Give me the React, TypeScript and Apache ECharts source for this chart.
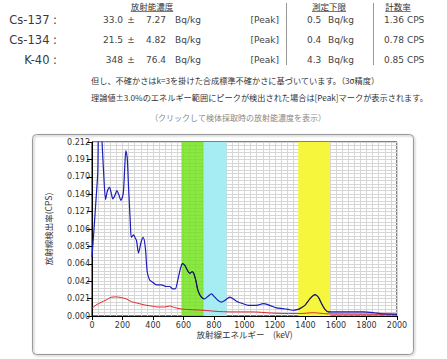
import React, { useEffect, useRef } from 'react';
import * as echarts from 'echarts';

const columnHeaders = ['放射能濃度', '測定下限', '計数率'];
const nuclides = ['Cs-137 :', 'Cs-134 :', 'K-40 :'];
const concentrations = ['33.0', '21.5', '348'];
const uncertainties = ['7.27', '4.82', '76.4'];
const concUnit = 'Bq/kg';
const peakMarks = ['[Peak]', '[Peak]', '[Peak]'];
const detectionLimits = ['0.5', '0.4', '4.3'];
const countRates = ['1.36 CPS', '0.78 CPS', '0.85 CPS'];
const notes = [
  '但し、不確かさはk=3を掛けた合成標準不確かさに基づいています。（3σ精度）',
  '理論値±3.0%のエネルギー範囲にピークが検出された場合は[Peak]マークが表示されます。',
];
const clickNote = '（クリックして検体採取時の放射能濃度を表示）';

const xAxisName = '放射線エネルギー　(keV)';
const yAxisName = '放射線検出率(CPS)';
const xTickLabels = ['0', '200', '400', '600', '800', '1000', '1200', '1400', '1600', '1800', '2000'];
const yTickLabels = ['0.000', '0.021', '0.042', '0.064', '0.085', '0.106', '0.127', '0.149', '0.170', '0.191', '0.212'];
const xMax = 2000;
const yMax = 0.2124;

// [keV, CPS]
const totalSpectrum: [number, number][] = [
  [0, 0.072], [12, 0.103], [27, 0.144], [38, 0.176], [45, 0.26], [55, 0.26], [64, 0.22],
  [76, 0.176], [89, 0.142], [100, 0.152], [115, 0.157], [126, 0.15], [137, 0.143], [152, 0.148],
  [163, 0.153], [176, 0.148], [190, 0.141], [205, 0.15], [213, 0.175], [222, 0.202], [231, 0.193],
  [240, 0.156], [251, 0.115], [258, 0.096], [273, 0.099], [284, 0.095], [292, 0.092], [305, 0.077],
  [323, 0.091], [336, 0.096], [350, 0.083], [362, 0.054], [378, 0.044], [400, 0.041], [421, 0.038],
  [455, 0.038], [488, 0.036], [509, 0.036], [531, 0.033], [546, 0.033], [564, 0.045], [580, 0.058],
  [593, 0.064], [608, 0.062], [625, 0.056], [641, 0.052], [656, 0.054], [665, 0.053], [680, 0.044],
  [695, 0.031], [717, 0.023], [739, 0.021], [761, 0.024], [783, 0.027], [805, 0.023], [827, 0.019],
  [849, 0.017], [871, 0.019], [903, 0.023], [925, 0.021], [958, 0.017], [991, 0.015], [1024, 0.013],
  [1079, 0.013], [1122, 0.015], [1166, 0.013], [1210, 0.01], [1250, 0.009], [1287, 0.008],
  [1319, 0.007], [1352, 0.008], [1363, 0.009], [1396, 0.013], [1429, 0.021], [1462, 0.026],
  [1484, 0.023], [1506, 0.015], [1528, 0.008], [1550, 0.005], [1561, 0.005], [1670, 0.005],
  [1780, 0.005], [1850, 0.004], [1889, 0.003], [2000, 0.002],
];

const backgroundSpectrum: [number, number][] = [
  [0, 0.0094], [27, 0.0135], [60, 0.0167], [93, 0.0196], [126, 0.0229], [159, 0.0233],
  [192, 0.0225], [225, 0.0208], [258, 0.0176], [301, 0.0155], [345, 0.0135], [389, 0.0122],
  [432, 0.011], [476, 0.011], [509, 0.0122], [542, 0.0103], [586, 0.0086], [641, 0.0078],
  [728, 0.007], [838, 0.0054], [947, 0.005], [1057, 0.005], [1166, 0.0037], [1287, 0.003],
  [1363, 0.003], [1451, 0.004], [1517, 0.003], [1561, 0.0025], [1800, 0.0022], [2000, 0.002],
];

const cs134Cs137Fit: [number, number][] = [
  [586, 0.061], [593, 0.064], [608, 0.062], [625, 0.056], [641, 0.052], [656, 0.054],
  [665, 0.053], [680, 0.044], [695, 0.031], [717, 0.023], [733, 0.021],
];

const k40Fit: [number, number][] = [
  [1352, 0.008], [1363, 0.009], [1396, 0.013], [1429, 0.021], [1462, 0.026], [1484, 0.023],
  [1506, 0.015], [1528, 0.008], [1550, 0.005], [1561, 0.005],
];

const tailArea: [number, number][] = [
  [1561, 0.0049], [1660, 0.0052], [1760, 0.0054], [1850, 0.0048], [1900, 0.0042], [2000, 0.004],
];

const bandRanges: [number, number][] = [[586, 733], [733, 882], [1352, 1561]];
const bandColors = ['rgba(110,226,20,0.8)', '#a6ecf3', '#f6f63c'];

const LATIN = '"DejaVu Sans", "Noto Sans CJK JP", sans-serif';
const CJK = '"Noto Sans CJK JP", "DejaVu Sans", sans-serif';

export default function App() {
  const ref = useRef<HTMLDivElement>(null);

  useEffect(() => {
    if (!ref.current) return;
    const chart = echarts.init(ref.current, null, { renderer: 'svg' });

    const rowY = [20, 40, 60];
    const graphics: any[] = [];

    graphics.push({
      type: 'rect',
      z: -10,
      shape: { x: 32.5, y: 134.5, width: 381, height: 220, r: 4 },
      style: {
        fill: 'none', stroke: '#9a9a9a', lineWidth: 1,
        shadowBlur: 2, shadowColor: 'rgba(0,0,0,0.35)', shadowOffsetX: 1, shadowOffsetY: 1,
      },
    });

    const headerX = [152, 329, 398];
    columnHeaders.forEach((t, i) => {
      graphics.push({
        type: 'text', x: headerX[i], y: 6,
        style: { text: t, fontSize: 8.5, fontFamily: CJK, fill: '#333', align: 'center', verticalAlign: 'middle' },
      });
      const w = t.length * 8.5;
      graphics.push({
        type: 'line',
        shape: { x1: headerX[i] - w / 2, y1: 11.5, x2: headerX[i] + w / 2, y2: 11.5 },
        style: { stroke: '#555', lineWidth: 0.8 },
      });
    });

    [286.5, 373.5].forEach((x) => {
      graphics.push({
        type: 'line', shape: { x1: x, y1: 3, x2: x, y2: 65 },
        style: { stroke: '#999', lineWidth: 1 },
      });
    });

    const dataStyle = (text: string, align: string) => ({
      text, fontSize: 9, fontFamily: LATIN, fill: '#444', align, verticalAlign: 'middle',
    });

    nuclides.forEach((n, i) => {
      const y = rowY[i];
      graphics.push({ type: 'text', x: 57, y, style: { text: n, fontSize: 11.5, fontFamily: LATIN, fill: '#3a3a3a', align: 'right', verticalAlign: 'middle' } });
      graphics.push({ type: 'text', x: 123, y, style: dataStyle(concentrations[i], 'right') });
      graphics.push({ type: 'text', x: 131, y, style: dataStyle('±', 'center') });
      graphics.push({ type: 'text', x: 166, y, style: dataStyle(uncertainties[i], 'right') });
      graphics.push({ type: 'text', x: 175, y, style: dataStyle(concUnit, 'left') });
      graphics.push({ type: 'text', x: 279, y, style: dataStyle(peakMarks[i], 'right') });
      graphics.push({ type: 'text', x: 307, y, style: dataStyle(detectionLimits[i], 'left') });
      graphics.push({ type: 'text', x: 328, y, style: dataStyle(concUnit, 'left') });
      graphics.push({ type: 'text', x: 384, y, style: dataStyle(countRates[i], 'left') });
    });

    notes.forEach((t, i) => {
      graphics.push({
        type: 'text', x: 91, y: [80, 97][i],
        style: { text: t, fontSize: 8.2, fontFamily: CJK, fill: '#333', align: 'left', verticalAlign: 'middle' },
      });
    });
    graphics.push({
      type: 'text', x: 238, y: 117,
      style: { text: clickNote, fontSize: 8, fontFamily: CJK, fill: '#888', align: 'center', verticalAlign: 'middle' },
    });

    const yInterval = yMax / 10;
    const hiddenParts = {
      axisLine: { show: false }, axisTick: { show: false }, axisLabel: { show: false },
    };

    chart.setOption({
      animation: false,
      grid: {
        left: 92, top: 142, width: 305, height: 174,
        show: true, borderColor: '#000', borderWidth: 1, backgroundColor: 'transparent',
      },
      xAxis: [
        {
          type: 'value', min: 0, max: xMax, interval: 200, z: 1,
          name: xAxisName, nameLocation: 'middle', nameGap: 17,
          nameTextStyle: { fontSize: 8.5, fontFamily: CJK, color: '#333', verticalAlign: 'middle' },
          axisLine: { show: true, onZero: false, lineStyle: { color: '#000', width: 1 } },
          axisTick: { show: true, length: 4, lineStyle: { color: '#000' } },
          axisLabel: {
            fontSize: 8, fontFamily: LATIN, color: '#333', margin: 5,
            formatter: (v: number) => xTickLabels[Math.round(v / 200)] ?? '',
          },
          splitLine: { show: true, lineStyle: { color: '#c2c2c2', width: 1 } },
        },
        {
          type: 'value', min: 0, max: xMax, interval: 40, position: 'top', z: 1,
          ...hiddenParts,
          splitLine: { show: true, lineStyle: { color: '#d6d6d6', width: 1 } },
        },
      ],
      yAxis: [
        {
          type: 'value', min: 0, max: yMax, interval: yInterval, z: 1,
          name: yAxisName, nameLocation: 'middle', nameGap: 40,
          nameTextStyle: { fontSize: 8.5, fontFamily: CJK, color: '#333' },
          axisLine: { show: true, onZero: false, lineStyle: { color: '#000', width: 1 } },
          axisTick: { show: true, length: 5, lineStyle: { color: '#000' } },
          axisLabel: {
            fontSize: 8, fontFamily: LATIN, color: '#333', margin: 2,
            formatter: (v: number) => yTickLabels[Math.round(v / yInterval)] ?? '',
          },
          splitLine: { show: true, lineStyle: { color: '#c2c2c2', width: 1 } },
        },
        {
          type: 'value', min: 0, max: yMax, interval: yInterval / 5, position: 'right', z: 1,
          ...hiddenParts,
          splitLine: { show: true, lineStyle: { color: '#d6d6d6', width: 1 } },
        },
      ],
      graphic: graphics,
      series: [
        {
          type: 'line', data: [], z: 2, silent: true,
          markArea: {
            silent: true,
            data: bandRanges.map((r, i) => [
              { xAxis: r[0], itemStyle: { color: bandColors[i] } },
              { xAxis: r[1] },
            ]),
          },
        },
        {
          type: 'line', data: tailArea, z: 3, symbol: 'none', silent: true,
          lineStyle: { width: 0 }, areaStyle: { color: 'rgba(196,110,196,0.6)', origin: 'start' },
        },
        {
          type: 'line', data: backgroundSpectrum, z: 4, symbol: 'none', smooth: 0.25,
          lineStyle: { color: '#e0262a', width: 1 },
        },
        {
          type: 'line', data: totalSpectrum, z: 5, symbol: 'none', smooth: 0.25,
          lineStyle: { color: '#1c1cb8', width: 1.2 },
        },
        {
          type: 'line', data: cs134Cs137Fit, z: 6, symbol: 'none', smooth: 0.25,
          lineStyle: { color: '#14143a', width: 1 },
        },
        {
          type: 'line', data: k40Fit, z: 6, symbol: 'none', smooth: 0.25,
          lineStyle: { color: '#222', width: 1 },
        },
      ],
    });

    return () => chart.dispose();
  }, []);

  return (
    <div
      ref={ref}
      style={{ position: 'fixed', left: 0, top: 0, width: 447, height: 359, background: '#fff' }}
    />
  );
}
